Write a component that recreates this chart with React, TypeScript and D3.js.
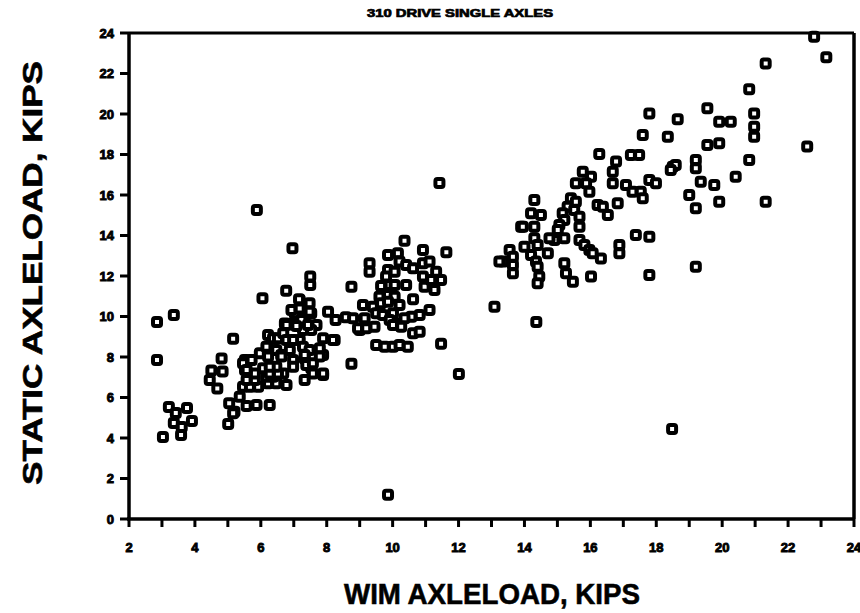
import React from "react";
import * as d3 from "d3";

const title = "310 DRIVE SINGLE AXLES";
const xLabel = "WIM AXLELOAD, KIPS";
const yLabel = "STATIC AXLELOAD, KIPS";

const xTickMajor = [2, 4, 6, 8, 10, 12, 14, 16, 18, 20, 22, 24];
const xTickMinor = d3.range(2, 25, 1);
const yTicks = [0, 2, 4, 6, 8, 10, 12, 14, 16, 18, 20, 22, 24];

// WIM axleload (kips)
const wim = [
  2.85, 3.36, 2.85, 3.21, 3.76, 3.42, 3.91, 3.36, 3.6, 3.58, 3.03,
  5.01, 5.04, 5.2, 5.16, 5.36, 5.57, 5.87, 6.27, 5.46, 5.67, 5.92, 6.22, 6.47, 6.78,
  4.45, 4.68, 4.5, 4.84, 4.81, 5.16, 5.52, 5.52, 5.57, 5.82, 6.17, 6.37, 6.68, 5.82,
  6.07, 6.27, 6.52, 6.47, 6.27, 5.72, 5.97, 6.22, 6.47, 6.62, 6.63, 6.22, 6.17, 6.22,
  6.37, 6.52, 6.68, 6.78, 6.73, 6.98, 7.03, 7.18, 7.48, 7.53, 7.28, 7.28, 7.18, 6.98,
  6.88, 7.28, 7.48, 7.69, 7.53, 6.98, 6.98, 7.33, 7.53, 7.33, 7.89, 7.38, 7.58, 7.58,
  7.89, 7.89, 7.33, 7.79, 7.89, 8.24, 7.79, 8.75, 6.05, 6.77, 6.96, 7.5, 7.5, 7.16,
  6.93, 7.18, 7.48, 8.04, 8.27, 8.58, 7.23, 6.78, 7.08, 7.43, 8.19, 8.75, 9.1, 9.0,
  5.88, 5.46, 5.57,
  10.36, 10.92, 11.63, 9.3, 9.3, 9.86, 10.16, 10.21, 10.41, 10.62, 9.86, 10.06, 10.92,
  11.12, 11.32, 11.47, 10.92, 10.97, 11.17, 11.27, 9.65, 9.91, 10.06, 9.8, 10.41, 9.6,
  9.86, 10.06, 10.62, 9.4, 9.65, 9.86, 10.21, 11.12, 10.82, 10.57, 8.8, 9.15, 9.5, 9.7,
  10.01, 9.91, 10.16, 10.36, 8.95, 9.2, 9.45, 10.01, 10.26, 10.62, 10.82, 9.5, 9.76,
  10.01, 10.21, 10.46, 11.47, 12.01, 9.86, 11.42,
  13.09, 13.55, 13.65, 13.35, 13.65, 13.65, 13.9, 13.24, 14.36, 14.2, 14.35, 14.4,
  14.45, 14.4, 14.71, 15.21, 15.26, 15.47, 16.02, 14.3, 14.2, 14.5, 13.95, 14.3, 14.3,
  14.4, 14.0, 14.91, 14.76, 15.21, 15.67, 15.82, 15.97, 16.07, 16.32, 16.88, 16.88,
  17.38, 17.79, 17.79, 15.31, 15.16, 15.21, 15.51, 15.67, 15.67, 15.06, 15.01, 15.41,
  15.56, 16.22, 16.38, 16.53, 16.83, 15.77, 16.02, 15.56, 15.87, 15.97, 16.27, 17.23,
  17.48, 16.78, 16.68, 16.68, 17.08, 17.28, 17.53, 17.79, 17.99, 17.59, 18.5, 17.59,
  18.35,
  22.79, 23.16, 21.32, 20.82, 19.55, 17.79, 18.65, 19.91, 20.26, 20.97, 20.97, 20.97,
  19.55, 19.91, 22.58, 20.82, 18.59, 18.44, 19.2, 19.2, 20.41, 19.35, 19.76, 19.0,
  19.2, 19.91, 21.32, 19.2, 18.48,
];

// Static axleload (kips)
const stat = [
  9.73, 10.07, 7.85, 5.53, 5.48, 5.23, 4.84, 4.74, 4.54, 4.15, 4.05,
  4.69, 5.71, 5.3, 5.22, 6.04, 5.58, 5.63, 5.63, 6.53, 6.53, 6.53, 6.7, 6.7, 6.62,
  6.86, 6.45, 7.33, 7.28, 7.93, 8.9, 7.85, 7.36, 6.86, 6.86, 7.03, 7.03, 7.19, 7.19,
  7.44, 7.19, 7.19, 7.52, 7.52, 7.85, 8.18, 8.43, 8.35, 8.1, 8.02, 8.02, 8.51, 9.09,
  8.92, 8.92, 9.17, 8.84, 9.66, 9.66, 10.16, 10.81, 10.65, 10.16, 9.83, 9.33, 8.84, 8.84,
  8.35, 8.51, 8.35, 9.58, 9.33, 7.85, 7.52, 7.93, 7.44, 6.86, 7.11, 7.6, 7.69, 7.19,
  7.19, 8.1, 8.1, 8.43, 8.92, 8.84, 8.02, 7.67, 10.9, 11.27, 13.37, 11.97, 11.56, 10.85,
  10.32, 10.4, 10.24, 10.24, 9.83, 9.96, 9.83, 9.58, 9.53, 9.58, 8.84, 11.47, 10.57, 9.33,
  15.26, 7.69, 7.36,
  13.74, 13.28, 13.17, 12.63, 12.21, 13.04, 13.12, 12.71, 12.54, 12.38, 12.3, 12.21, 12.63,
  12.71, 12.21, 11.8, 11.97, 11.47, 11.8, 11.31, 11.51, 11.56, 11.56, 11.97, 11.56, 10.98,
  11.06, 10.98, 10.85, 10.48, 10.65, 10.73, 10.57, 10.32, 10.07, 9.99, 9.91, 9.91, 10.16, 10.07,
  10.16, 9.83, 9.66, 9.91, 9.42, 9.42, 9.5, 9.58, 9.5, 9.17, 9.25, 8.59, 8.51,
  8.51, 8.59, 8.51, 8.66, 7.16, 1.2, 16.59,
  10.48, 13.28, 12.95, 12.71, 12.54, 12.13, 14.43, 12.71, 9.73, 13.04, 12.71, 12.46,
  11.97, 11.64, 13.12, 12.63, 12.13, 11.72, 11.97, 15.75, 15.1, 15.01, 14.43, 14.43, 13.86,
  13.53, 13.45, 13.78, 13.86, 13.86, 13.78, 13.53, 13.28, 13.12, 12.87, 13.53, 13.12,
  14.02, 13.94, 12.05, 15.42, 15.1, 14.77, 15.26, 14.93, 14.43, 14.52, 14.27, 15.84,
  15.67, 15.51, 15.42, 15.01, 15.59, 17.15, 16.9, 16.58, 16.58, 16.16, 18.02, 17.98,
  17.98, 17.65, 17.15, 16.58, 16.49, 16.16, 16.16, 16.74, 16.58, 15.84, 17.4, 18.96,
  18.88,
  23.82, 22.8, 22.5, 21.22, 20.28, 20.03, 19.74, 19.62, 19.62, 20.03, 19.37, 18.88,
  18.47, 18.55, 18.39, 17.73, 17.48, 17.23, 17.73, 17.32, 16.9, 16.66, 16.49, 16.0,
  15.34, 15.67, 15.67, 12.46, 4.44,
];

const W = 860;
const H = 613;

export default function App() {
  const x = d3.scaleLinear().domain([2, 24]).range([129, 854]);
  const y = d3.scaleLinear().domain([0, 24]).range([519, 33]);
  const pts = wim.map((v, i) => ({ x: v, y: stat[i] })).filter((p) => p.y !== undefined);
  const font = "'Liberation Sans', Arial, sans-serif";
  const s = 8;
  return (
    <svg
      width={W}
      height={H}
      style={{ position: "absolute", left: 0, top: 0, background: "#fff" }}
    >
      <text
        x={460}
        y={17}
        textAnchor="middle"
        fontFamily={font}
        fontWeight={900}
        fontSize={11}
        stroke="#000"
        strokeWidth={0.7}
        textLength={186}
        lengthAdjust="spacingAndGlyphs"
      >
        {title}
      </text>
      {/* frame */}
      <line x1={x(2)} x2={x(24)} y1={y(24)} y2={y(24)} stroke="#000" strokeWidth={3} />
      <line x1={x(24)} x2={x(24)} y1={y(24)} y2={y(0)} stroke="#000" strokeWidth={3.5} />
      <line x1={x(2)} x2={x(2)} y1={y(24)} y2={y(0)} stroke="#000" strokeWidth={3.5} />
      <line x1={x(2) - 2} x2={x(24) + 1} y1={y(0)} y2={y(0)} stroke="#000" strokeWidth={3.5} />
      {/* y ticks */}
      {yTicks.map((t) => (
        <g key={"y" + t}>
          <line x1={x(2) - 9} x2={x(2)} y1={y(t)} y2={y(t)} stroke="#000" strokeWidth={3} />
          <text
            x={x(2) - 15}
            y={y(t)}
            dy="0.36em"
            textAnchor="end"
            fontFamily={font}
            fontWeight={900}
            fontSize={13}
            stroke="#000"
            strokeWidth={0.9}
          >
            {t}
          </text>
        </g>
      ))}
      {/* x ticks */}
      {xTickMinor.map((t) => (
        <line key={"xm" + t} x1={x(t)} x2={x(t)} y1={y(0)} y2={y(0) + 8} stroke="#000" strokeWidth={3} />
      ))}
      {xTickMajor.map((t) => (
        <text
          key={"xl" + t}
          x={x(t)}
          y={552}
          textAnchor="middle"
          fontFamily={font}
          fontWeight={900}
          fontSize={13}
          stroke="#000"
          strokeWidth={0.9}
        >
          {t}
        </text>
      ))}
      {/* points */}
      {pts.map((p, i) => (
        <rect
          key={i}
          x={x(p.x) - s / 2}
          y={y(p.y) - s / 2}
          width={s}
          height={s}
          rx={2}
          fill="#fff"
          stroke="#000"
          strokeWidth={4}
        />
      ))}
      <text
        x={492}
        y={604}
        textAnchor="middle"
        fontFamily={font}
        fontWeight={700}
        fontSize={30}
        stroke="#000"
        strokeWidth={0.6}
        textLength={296}
        lengthAdjust="spacingAndGlyphs"
      >
        {xLabel}
      </text>
      <text
        transform={`translate(42,${273}) rotate(-90)`}
        textAnchor="middle"
        fontFamily={font}
        fontWeight={700}
        fontSize={28}
        stroke="#000"
        strokeWidth={0.6}
        textLength={424}
        lengthAdjust="spacingAndGlyphs"
      >
        {yLabel}
      </text>
    </svg>
  );
}
